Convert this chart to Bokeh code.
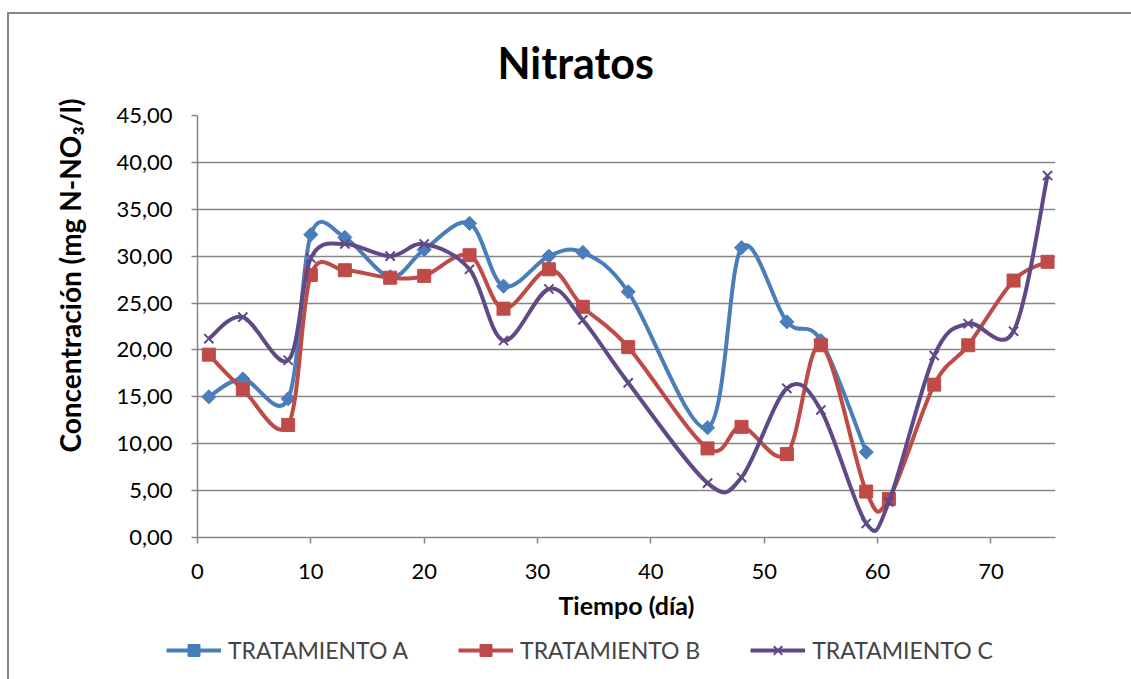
import numpy as np
from bokeh.plotting import figure
from bokeh.layouts import column
from bokeh.models import (Range1d, FixedTicker, CustomJSTickFormatter, Legend, LegendItem,
                          Title)
from bokeh.embed import file_html
from bokeh.resources import INLINE

# ---- data ----
dias_A = [1, 4, 8, 10, 13, 17, 20, 24, 27, 31, 34, 38, 45, 48, 52, 55, 59]
trat_A = [15.0, 16.9, 14.8, 32.3, 32.0, 27.8, 30.7, 33.5, 26.8, 30.0, 30.4, 26.2,
          11.7, 30.9, 23.0, 21.0, 9.1]
dias_BC = [1, 4, 8, 10, 13, 17, 20, 24, 27, 31, 34, 38, 45, 48, 52, 55, 59, 61,
           65, 68, 72, 75]
trat_B = [19.5, 15.8, 12.0, 28.0, 28.5, 27.7, 27.9, 30.1, 24.4, 28.6, 24.6, 20.3,
          9.5, 11.8, 8.9, 20.5, 4.9, 4.1, 16.3, 20.5, 27.4, 29.4]
trat_C = [21.2, 23.5, 18.9, 29.8, 31.3, 30.0, 31.3, 28.6, 21.0, 26.5, 23.2, 16.5,
          5.8, 6.4, 15.9, 13.6, 1.5, 3.8, 19.4, 22.8, 22.0, 38.6]
x_ticks = [0, 10, 20, 30, 40, 50, 60, 70]
y_ticks = [0, 5, 10, 15, 20, 25, 30, 35, 40, 45]
labels = ["TRATAMIENTO A", "TRATAMIENTO B", "TRATAMIENTO C"]
colors = ["#4A7EBB", "#BE4B48", "#5F4A87"]

FONT = "Lato"
GRAY = "#868686"


def smooth_segments(xs, ys):
    """Excel-like smoothed line: cubic Bezier segments (Catmull-Rom control points)."""
    x = np.asarray(xs, float)
    y = np.asarray(ys, float)
    n = len(x)
    seg = dict(x0=[], y0=[], x1=[], y1=[], cx0=[], cy0=[], cx1=[], cy1=[])
    for i in range(n - 1):
        a = max(i - 1, 0)
        d = min(i + 2, n - 1)
        seg["x0"].append(x[i]); seg["y0"].append(y[i])
        seg["x1"].append(x[i + 1]); seg["y1"].append(y[i + 1])
        seg["cx0"].append(x[i] + (x[i + 1] - x[a]) / 6.0)
        seg["cy0"].append(y[i] + (y[i + 1] - y[a]) / 6.0)
        seg["cx1"].append(x[i + 1] - (x[d] - x[i]) / 6.0)
        seg["cy1"].append(y[i + 1] - (y[d] - y[i]) / 6.0)
    return seg


def add_series(fig, xs, ys, col, mk, sz, ang):
    seg = smooth_segments(xs, ys)
    br = fig.bezier(x0=seg["x0"], y0=seg["y0"], x1=seg["x1"], y1=seg["y1"],
                    cx0=seg["cx0"], cy0=seg["cy0"], cx1=seg["cx1"], cy1=seg["cy1"],
                    line_color=col, line_width=4)
    if mk == "x":
        sr = fig.scatter(xs, ys, marker="x", size=sz, line_color=col, line_width=2)
    else:
        sr = fig.scatter(xs, ys, marker=mk, size=sz, angle=ang, fill_color=col,
                         line_color=col, line_width=1)
    return br, sr


MAIN_H = 630
LEG_H = 679 - MAIN_H

p = figure(width=1131, height=MAIN_H, output_backend="svg", toolbar_location=None,
           x_range=Range1d(0, 75.7), y_range=Range1d(0, 45),
           min_border_left=197, min_border_right=76, min_border_top=115,
           min_border_bottom=MAIN_H - 537)
p.frame_align = False
p.outline_line_color = None
p.background_fill_color = "white"
p.border_fill_color = "white"
p.border_fill_alpha = 0
# chart-area border (only its top and left edges are inside the picture)
p.styles = {
    "background": ("linear-gradient(#868686, #868686) 7px 12px / 2px 100% no-repeat, "
                   "linear-gradient(#868686, #868686) 7px 12px / 100% 2px no-repeat, white"),
}

# title
p.title.text = "Nitratos"
p.title.text_font = FONT
p.title.text_font_size = "43px"
p.title.text_font_style = "bold"
p.title.text_color = "black"
p.title.align = "left"
p.title.offset = 300
p.title.standoff = 56

# grid
p.xgrid.grid_line_color = None
p.ygrid.grid_line_color = GRAY
p.ygrid.grid_line_width = 1.5

# axes
for ax in (p.xaxis[0], p.yaxis[0]):
    ax.axis_line_color = GRAY
    ax.axis_line_width = 1.5
    ax.major_tick_line_color = GRAY
    ax.major_tick_line_width = 1.5
    ax.major_tick_in = 0
    ax.major_tick_out = 6
    ax.minor_tick_line_color = None
    ax.major_label_text_font = FONT
    ax.major_label_text_font_size = "22px"
    ax.major_label_text_color = "black"
    ax.axis_label_text_font = FONT
    ax.axis_label_text_font_style = "bold"
    ax.axis_label_text_color = "black"

p.xaxis.ticker = FixedTicker(ticks=x_ticks)
p.yaxis.ticker = FixedTicker(ticks=y_ticks)
p.yaxis.formatter = CustomJSTickFormatter(code="return tick.toFixed(2).replace('.', ',');")
p.xaxis.major_label_standoff = 20
p.yaxis.major_label_standoff = 19
p.xaxis.axis_label = "Tiempo (día)"
p.xaxis.axis_label_text_font_size = "25px"
p.xaxis.axis_label_standoff = 8

# y-axis title, placed like the reference (vertical, left of the tick labels)
ytitle = Title(text="Concentración (mg N-NO\u2083/l)", align="left", offset=85,
               standoff=54, text_font=FONT, text_font_size="28px",
               text_font_style="bold", text_color="black")
p.add_layout(ytitle, "left")

series = [(dias_A, trat_A), (dias_BC, trat_B), (dias_BC, trat_C)]
markers = [("square", 10, np.pi / 4), ("square", 13, 0.0), ("x", 13, 0.0)]
for (xs, ys), col, (mk, sz, ang) in zip(series, colors, markers):
    add_series(p, xs, ys, col, mk, sz, ang)

# ---- legend strip (separate canvas below the chart) ----
lf = figure(width=1131, height=LEG_H, output_backend="svg", toolbar_location=None,
            x_range=Range1d(-200, -100), y_range=Range1d(-200, -100),
            x_axis_location=None, y_axis_location=None,
            min_border_left=0, min_border_right=0, min_border_top=0, min_border_bottom=0)
lf.frame_align = False
lf.title.visible = False
lf.grid.visible = False
lf.outline_line_color = None
lf.background_fill_alpha = 0
lf.border_fill_alpha = 0
lf.styles = {"background": "linear-gradient(#868686, #868686) 7px 0px / 2px 100% no-repeat, white"}

items = []
for (xs, ys), lab, col, (mk, sz, ang) in zip(series, labels, colors, markers):
    br, sr = add_series(lf, xs, ys, col, mk, sz, ang)
    items.append(LegendItem(label=lab, renderers=[br, sr]))

legend = Legend(items=items, orientation="horizontal", location=(166, 14),
                glyph_width=55, glyph_height=30, label_standoff=7, spacing=50,
                label_text_font=FONT, label_text_font_size="23px",
                border_line_color=None, background_fill_alpha=0, margin=0, padding=4)
lf.add_layout(legend)

layout = column(p, lf, spacing=0)
open("out.html", "w").write(file_html(layout, INLINE))
